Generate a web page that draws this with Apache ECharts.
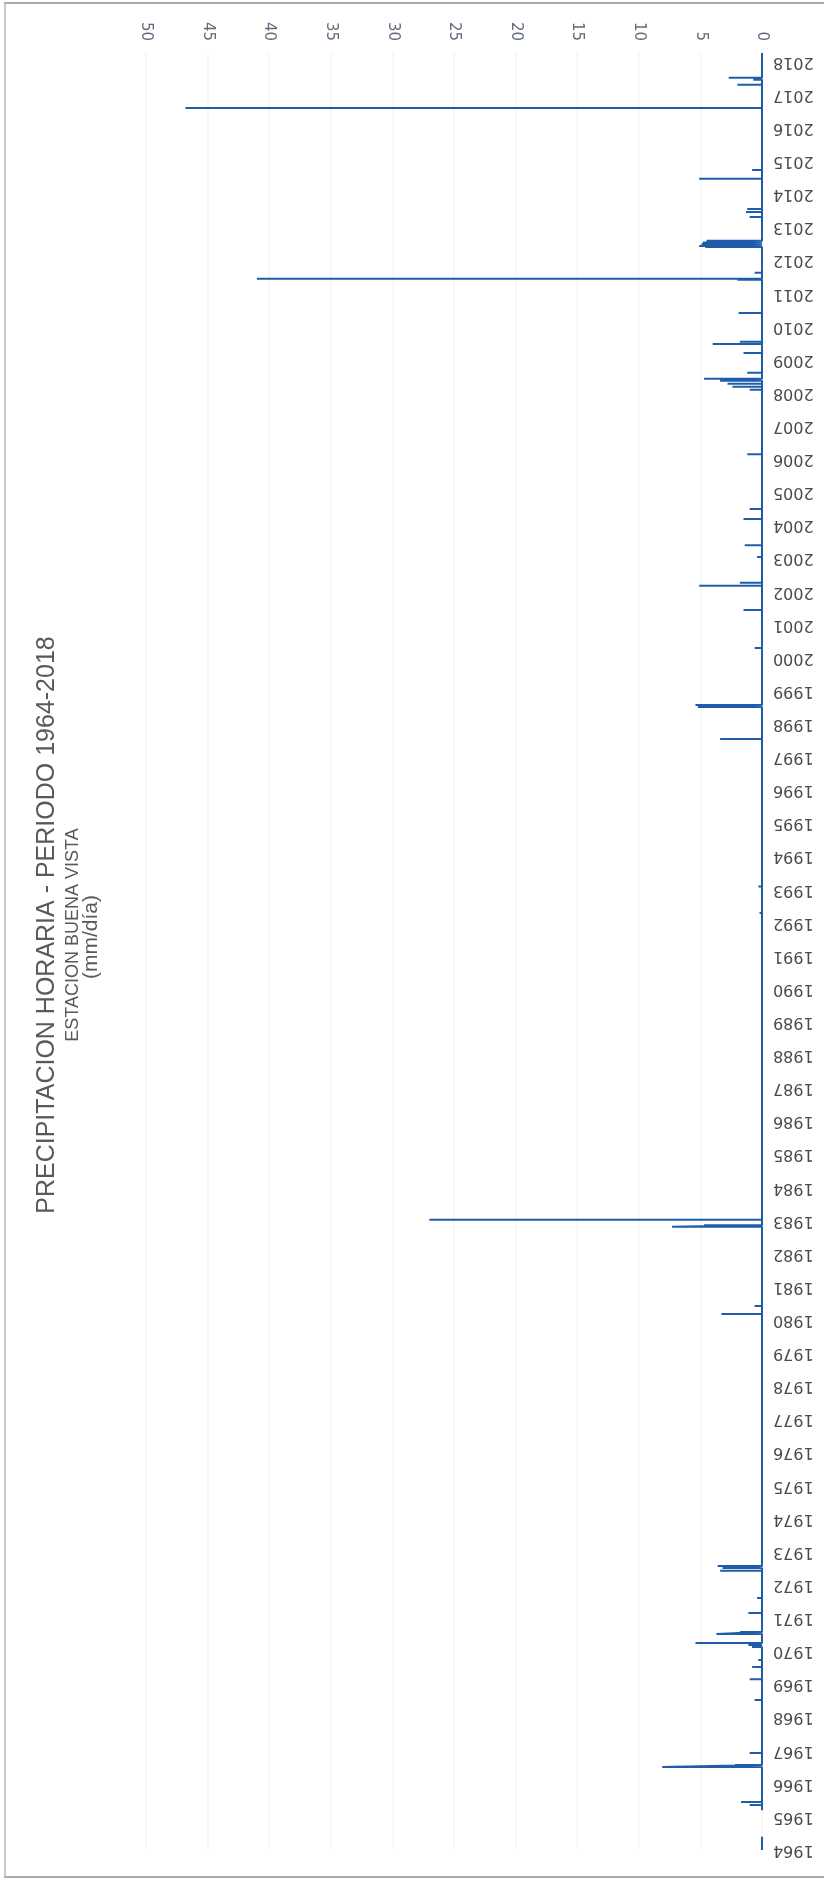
<!DOCTYPE html>
<html>
<head>
<meta charset="utf-8">
<script src="https://cdn.jsdelivr.net/npm/echarts@6/dist/echarts.min.js"></script>
<style>
html,body{margin:0;padding:0;background:#ffffff;}
#chart{width:824px;height:1881px;}
</style>
</head>
<body>
<div id="chart"></div>
<script>
// ---- text ----
const titleText = 'PRECIPITACION HORARIA - PERIODO 1964-2018';
const subtitleText = 'ESTACION BUENA VISTA';
const unitText = '(mm/día)';

// ---- axes ----
const valueMin = 0, valueMax = 50, valueStep = 5;
const yearMin = 1964, yearMax = 2018.3, yearStep = 1;

// ---- record extents (periods with readings at 0 mm) ----
const recordStarts = [1965.2, 1964.0];
const recordEnds   = [2018.27, 1964.4];

// ---- spikes: time (decimal year) and hourly precipitation (mm) ----
const spikeYears = [
  2017.52, 2017.46, 2017.31, 2016.61, 2014.74, 2014.47, 2013.56, 2013.47, 2013.32,
  2012.60, 2012.55, 2012.50, 2012.44, 2012.41, 2011.63, 2011.45, 2011.42, 2010.42,
  2009.55, 2009.48, 2009.21, 2008.61, 2008.43, 2008.37, 2008.28, 2008.19, 2008.10,
  2006.15, 2004.50, 2004.20, 2003.40, 2003.05, 2002.27, 2002.18, 2001.45, 2000.30,
  1998.58, 1998.52, 1997.55, 1993.10, 1992.30, 1983.03, 1982.87, 1982.82, 1980.43,
  1980.19, 1972.58, 1972.52, 1972.43, 1971.61, 1971.16, 1970.58, 1970.52, 1970.25,
  1970.19, 1970.13, 1969.74, 1969.53, 1969.16, 1968.53, 1966.93, 1966.57, 1966.51,
  1965.45, 1965.36
];
const spikeValues = [
  2.7, 0.7, 2.0, 46.8, 0.8, 5.1, 1.2, 1.3, 1.0,
  4.5, 4.8, 4.9, 5.1, 4.6, 0.6, 41.0, 2.0, 1.9,
  1.8, 4.0, 1.5, 1.2, 4.7, 3.4, 2.8, 2.4, 1.0,
  1.2, 1.0, 1.5, 1.4, 0.4, 1.8, 5.1, 1.5, 0.6,
  5.4, 5.2, 3.4, 0.3, 0.2, 27.0, 4.7, 7.3, 0.6,
  3.3, 3.6, 3.2, 3.4, 0.4, 1.1, 1.8, 3.7, 5.4,
  1.1, 0.8, 0.3, 0.8, 1.0, 0.6, 1.0, 2.2, 8.1,
  1.7, 1.0
];

// build one polyline per record period: zero baseline with spikes out to the value
function buildSegment(start, end) {
  const pts = [[0, end]];
  const idx = spikeYears.map((y, i) => i)
    .filter(i => spikeYears[i] <= end && spikeYears[i] >= start)
    .sort((a, b) => spikeYears[b] - spikeYears[a]);
  idx.forEach(i => {
    const t = spikeYears[i];
    pts.push([0, t], [spikeValues[i], t], [0, t]);
  });
  pts.push([0, start]);
  return pts;
}

const lineColor = '#1f5dab';
const series = recordStarts.map((s, k) => ({
  type: 'line',
  data: buildSegment(s, recordEnds[k]),
  symbol: 'none',
  lineStyle: { color: lineColor, width: 2 },
  itemStyle: { color: lineColor },
  z: 3
}));

const chart = echarts.init(document.getElementById('chart'), null, { renderer: 'canvas' });
chart.setOption({
  animation: false,
  backgroundColor: '#ffffff',
  grid: { left: 146, right: 62, top: 52, bottom: 31, containLabel: false },
  xAxis: {
    type: 'value',
    position: 'top',
    inverse: true,
    min: valueMin, max: valueMax, interval: valueStep,
    axisLine: { show: false },
    axisTick: { show: false },
    splitLine: { show: true, lineStyle: { color: '#f6f6f6', width: 1.5 } },
    axisLabel: {
      rotate: 90, margin: 11,
      fontFamily: 'DejaVu Sans', fontSize: 15, color: '#5f6b7d'
    }
  },
  yAxis: {
    type: 'value',
    position: 'right',
    min: yearMin, max: yearMax, interval: yearStep,
    axisLine: { show: false },
    axisTick: { show: false },
    splitLine: { show: false },
    axisLabel: {
      rotate: 180, margin: 11,
      fontFamily: 'DejaVu Sans', fontSize: 16, color: '#4a4a4a',
      formatter: v => (Math.abs(v - Math.round(v)) < 1e-6 ? String(Math.round(v)) : '')
    }
  },
  series: series,
  graphic: [
    { type: 'line', shape: { x1: 4, y1: 3, x2: 824, y2: 3 }, style: { stroke: '#a8a8a8', lineWidth: 2 }, silent: true },
    { type: 'line', shape: { x1: 4, y1: 1877, x2: 824, y2: 1877 }, style: { stroke: '#a8a8a8', lineWidth: 2 }, silent: true },
    { type: 'line', shape: { x1: 5, y1: 3, x2: 5, y2: 1877 }, style: { stroke: '#b8b8b8', lineWidth: 1.5 }, silent: true },
    {
      type: 'text', x: 47, y: 925, rotation: Math.PI / 2, silent: true,
      style: { text: titleText, fontFamily: 'Liberation Sans', fontSize: 25, fill: '#595959',
               align: 'center', verticalAlign: 'middle', textAlign: 'center', textVerticalAlign: 'middle' }
    },
    {
      type: 'text', x: 73, y: 935, rotation: Math.PI / 2, silent: true,
      style: { text: subtitleText, fontFamily: 'Liberation Sans', fontSize: 18, fill: '#595959',
               align: 'center', verticalAlign: 'middle', textAlign: 'center', textVerticalAlign: 'middle' }
    },
    {
      type: 'text', x: 91, y: 937, rotation: Math.PI / 2, silent: true,
      style: { text: unitText, fontFamily: 'Liberation Sans', fontSize: 21, fill: '#595959',
               align: 'center', verticalAlign: 'middle', textAlign: 'center', textVerticalAlign: 'middle' }
    }
  ]
});
</script>
</body>
</html>
